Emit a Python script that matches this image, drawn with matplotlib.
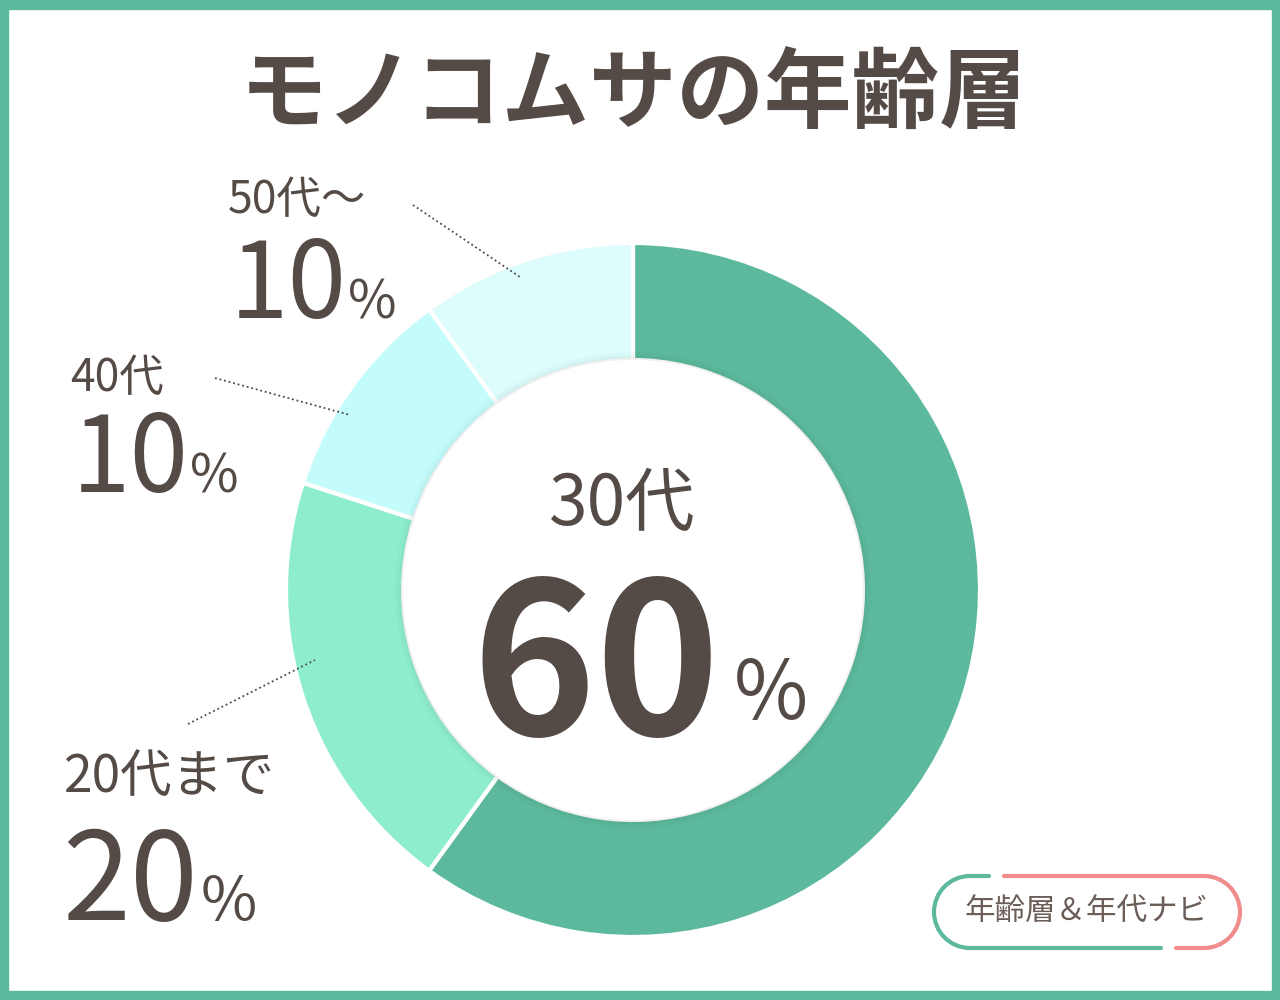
import matplotlib
matplotlib.use('Agg')
import matplotlib.pyplot as plt
from matplotlib.patches import Rectangle, Arc, Circle

plt.rcParams['font.family'] = ['Noto Sans CJK JP', 'DejaVu Sans']

# data
title = 'モノコムサの年齢層'
age_groups = ['30代', '20代まで', '40代', '50代～']
shares = [60, 20, 10, 10]
slice_colors = ['#5cb99d', '#8eedcf', '#c4fcfc', '#ddfcfc']
badge_text = '年齢層＆年代ナビ'

text_col = '#554b46'
green = '#5cb99d'
pink = '#f08c8c'


def Y(y):
    # image pixel row -> data y
    return 1000 - y


fig = plt.figure(figsize=(12.8, 10), dpi=100)
ax = fig.add_axes([0, 0, 1, 1])

ax.pie(shares, colors=slice_colors, startangle=90, counterclock=False,
       center=(633, Y(590)), radius=347,
       wedgeprops=dict(width=117, edgecolor='white', linewidth=3))

# faint shadow along the hole
for i, a in enumerate([0.05, 0.035, 0.02, 0.01]):
    ax.add_patch(Circle((633, Y(590)), 231 + i * 2, facecolor='none',
                        edgecolor='#000000', lw=2, alpha=a, zorder=3))
ax.add_patch(Circle((633, Y(590)), 230, facecolor='white', edgecolor='none', zorder=4))

ax.set_xlim(0, 1280)
ax.set_ylim(0, 1000)
ax.set_aspect('equal')
ax.axis('off')

# frame
for r in [(0, 0, 1280, 9), (0, 991, 1280, 9), (0, 0, 8, 1000), (1272, 0, 8, 1000)]:
    ax.add_patch(Rectangle((r[0], r[1]), r[2], r[3], color=green, zorder=10))

ax.text(633, Y(97), title, ha='center', va='center', fontsize=63,
        weight='bold', color=text_col)


def value_label(name, val, name_xy, num_xy, name_size, num_size, pct_size, pct_dx, pct_dy):
    ax.text(name_xy[0], Y(name_xy[1]), name, ha='left', va='center',
            fontsize=name_size, color=text_col)
    num = ax.text(num_xy[0], Y(num_xy[1]), str(val), ha='left', va='baseline',
                  fontsize=num_size, color=text_col)
    ax.annotate('%', xy=(1, 0), xycoords=num, xytext=(pct_dx, pct_dy),
                textcoords='offset points', ha='left', va='bottom',
                fontsize=pct_size, color=text_col)


value_label(age_groups[3], shares[3], (228, 200), (230, 318), 32, 76, 38, 1, 8)
value_label(age_groups[2], shares[2], (70, 378), (72, 492), 32, 76, 38, 1, 8)
value_label(age_groups[1], shares[1], (64, 777), (62, 920), 37, 88, 44, 2, 10)

# leader lines
leaders = [((413, 205), (520, 277)), ((215, 378), (350, 415)), ((188, 724), (315, 660))]
for p, q in leaders:
    ax.plot([p[0], q[0]], [Y(p[1]), Y(q[1])], color='#4a4a4a', lw=1.3,
            ls=(0, (1, 1.6)), zorder=5)

# center
ax.text(622, Y(505), age_groups[0], ha='center', va='center', fontsize=50,
        color=text_col, zorder=6)
ax.text(720, Y(735), str(shares[0]), ha='right', va='baseline',
        fontsize=152, weight='bold', color=text_col, zorder=6)
ax.text(734, Y(719), '%', ha='left', va='baseline', fontsize=58,
        color=text_col, zorder=6)

# badge
cy = Y(912)
r = 36
lw = 3
ax.add_patch(Arc((970, cy), 2 * r, 2 * r, theta1=90, theta2=270, color=green, lw=lw))
ax.add_patch(Arc((1204, cy), 2 * r, 2 * r, theta1=-90, theta2=90, color=pink, lw=lw))
ax.plot([970, 989], [cy + r, cy + r], color=green, lw=lw, solid_capstyle='round')
ax.plot([1004, 1204], [cy + r, cy + r], color=pink, lw=lw, solid_capstyle='round')
ax.plot([970, 1161], [cy - r, cy - r], color=green, lw=lw, solid_capstyle='round')
ax.plot([1176, 1204], [cy - r, cy - r], color=pink, lw=lw, solid_capstyle='round')
ax.text(1087, cy, badge_text, ha='center', va='center', fontsize=22, color='#6b5e58')

fig.savefig('out.png', dpi=100, facecolor='white')
